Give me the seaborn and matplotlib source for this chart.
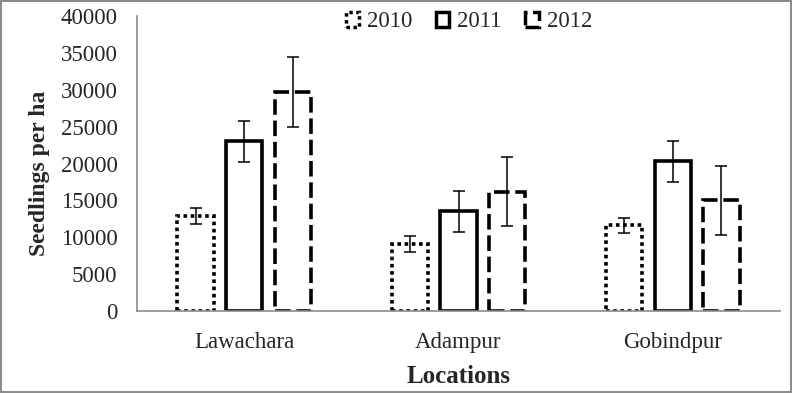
import matplotlib
matplotlib.use("Agg")
import matplotlib.pyplot as plt
from matplotlib.patches import Patch
import seaborn as sns
import pandas as pd
import numpy as np

locations = ["Lawachara", "Adampur", "Gobindpur"]
years = ["2010", "2011", "2012"]
means_2010 = [12900, 9100, 11600]
means_2011 = [23000, 13500, 20300]
means_2012 = [29700, 16200, 15000]
err_2010 = [1100, 1100, 1000]
err_2011 = [2800, 2750, 2750]
err_2012 = [4700, 4700, 4700]

means = {"2010": means_2010, "2011": means_2011, "2012": means_2012}
errs = {"2010": err_2010, "2011": err_2011, "2012": err_2012}

rows = []
for y in years:
    for loc, m in zip(locations, means[y]):
        rows.append({"Location": loc, "Year": y, "Seedlings": m})
df = pd.DataFrame(rows)

sns.set_theme(style="white")
plt.rcParams["font.family"] = ["Liberation Serif", "DejaVu Serif"]

fig = plt.figure(figsize=(7.92, 3.93), dpi=100, edgecolor="#8c8c8c", linewidth=1.5)
ax = fig.add_axes([137/792, 1-311/393, (780-137)/792, (311-16)/393])

styles = {"2010": (0, (1, 1)), "2011": "solid", "2012": (0, (4.3, 1.6))}

sns.barplot(data=df, x="Location", y="Seedlings", hue="Year", order=locations,
            hue_order=years, palette=["black"]*3, fill=False, width=0.68, gap=0.25,
            errorbar=None, ax=ax, legend=False)

for cont, y in zip(ax.containers, years):
    xs = []
    for p in cont.patches:
        p.set_linestyle(styles[y])
        p.set_linewidth(2.6)
        p.set_edgecolor("black")
        p.set_facecolor("none")
        p.set_capstyle("butt")
        p.set_joinstyle("miter")
        xs.append(p.get_x() + p.get_width()/2)
    ax.errorbar(xs, means[y], yerr=errs[y], fmt="none", ecolor="black",
                elinewidth=1.1, capsize=4, capthick=1.1, zorder=5)

ax.set_ylim(0, 40000)
ax.set_yticks(np.arange(0, 40001, 5000))
ax.set_xlim(-0.5, 2.5)
ax.tick_params(axis="y", labelsize=16.5, length=0, pad=14)
ax.tick_params(axis="x", labelsize=16.5, length=0, pad=15)
ax.set_xlabel("Locations", fontsize=18, fontweight="bold", labelpad=9)
ax.set_ylabel("Seedlings per ha", fontsize=17, fontweight="bold")
ax.yaxis.set_label_coords(-0.136, 0.468)

for s in ["top", "right"]:
    ax.spines[s].set_visible(False)
for s in ["left", "bottom"]:
    ax.spines[s].set_color("#8c8c8c")
    ax.spines[s].set_linewidth(1.2)

handles = [Patch(facecolor="none", edgecolor="black", linestyle=styles[y], linewidth=2.5, label=y)
           for y in years]
ax.legend(handles=handles, loc="center", bbox_to_anchor=(0.516, 0.98), ncol=3,
          frameon=False, fontsize=16.5, handlelength=0.6, handleheight=0.6,
          handletextpad=0.35, columnspacing=1.0, borderpad=0, borderaxespad=0)

fig.savefig("out.png", dpi=100, edgecolor=fig.get_edgecolor())
